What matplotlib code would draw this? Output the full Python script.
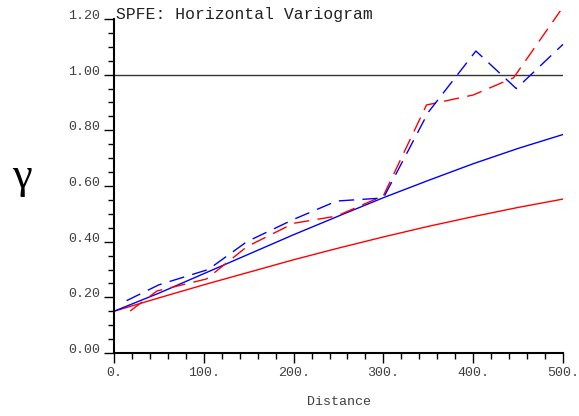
import matplotlib
matplotlib.use("Agg")
import matplotlib.pyplot as plt
from matplotlib.ticker import MultipleLocator

# experimental variogram points (lag distance, gamma)
red_lag = [18, 48, 103, 148, 200, 248, 300, 348, 400, 445, 497]
red_gam = [0.151, 0.223, 0.266, 0.382, 0.466, 0.492, 0.565, 0.891, 0.927, 0.989, 1.229]
blue_lag = [14, 50, 105, 148, 200, 248, 300, 350, 403, 448, 500]
blue_gam = [0.188, 0.245, 0.300, 0.400, 0.480, 0.546, 0.557, 0.865, 1.085, 0.950, 1.109]

# fitted model curves
model_dist = [0, 50, 100, 150, 200, 250, 300, 350, 400, 450, 500]
red_model = [0.15, 0.198, 0.245, 0.29, 0.335, 0.377, 0.417, 0.455, 0.49, 0.523, 0.553]
blue_model = [0.15, 0.215, 0.285, 0.355, 0.425, 0.492, 0.558, 0.62, 0.68, 0.735, 0.785]

sill = 1.0
mono = "Liberation Mono"
grey = "#404040"

fig = plt.figure(figsize=(5.79, 4.16), dpi=100)
ax = fig.add_axes([114 / 579, 1 - 353 / 416, 449 / 579, 334 / 416])

ax.axhline(sill, color="#333333", lw=1.0)
ax.plot(model_dist, red_model, color="red", lw=1.0)
ax.plot(model_dist, blue_model, color="blue", lw=1.0)
ax.plot(red_lag, red_gam, color="red", lw=1.0, dashes=(11, 6), clip_on=False)
ax.plot(blue_lag, blue_gam, color="blue", lw=1.0, dashes=(11, 6), clip_on=False)

ax.set_xlim(0, 500)
ax.set_ylim(0, 1.2)
ax.spines["top"].set_visible(False)
ax.spines["right"].set_visible(False)
ax.spines["left"].set_linewidth(1.5)
ax.spines["bottom"].set_linewidth(1.5)

ax.xaxis.set_major_locator(MultipleLocator(100))
ax.xaxis.set_minor_locator(MultipleLocator(20))
ax.yaxis.set_major_locator(MultipleLocator(0.2))
ax.yaxis.set_minor_locator(MultipleLocator(0.05))
ax.tick_params(which="major", direction="out", length=7, width=1, colors="black")
ax.tick_params(which="minor", direction="out", length=4, width=1, colors="black")
ax.tick_params(axis="x", pad=3)
ax.tick_params(axis="y", pad=3)

xt = [0, 100, 200, 300, 400, 500]
ax.set_xticks(xt)
ax.set_xticklabels(["%d." % v for v in xt], family=mono, fontsize=9.6, color=grey)
yt = [0.0, 0.2, 0.4, 0.6, 0.8, 1.0, 1.2]
ax.set_yticks(yt)
ax.set_yticklabels(["%.2f" % v for v in yt], family=mono, fontsize=9.6, color=grey,
                   va="baseline")

ax.set_xlabel("Distance", family=mono, fontsize=9.6, color=grey, labelpad=12)

fig.text(116 / 579, 1 - 18.5 / 416, "SPFE: Horizontal Variogram", family=mono,
         fontsize=11.8, color="#222222", va="baseline")
fig.text(22 / 579, 1 - 188 / 416, "\u03b3", family="Liberation Serif", fontsize=32,
         ha="center", va="baseline")

fig.savefig("out.png", dpi=100)
